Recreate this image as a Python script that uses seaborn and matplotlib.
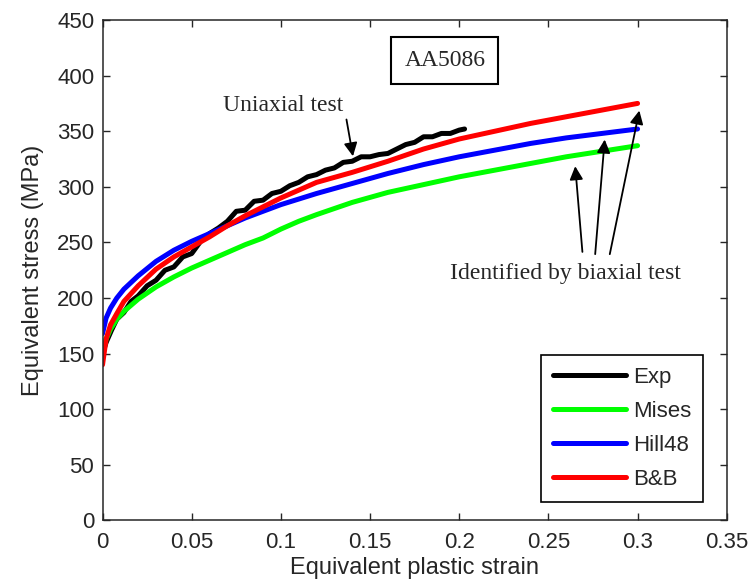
import pandas as pd
import matplotlib.pyplot as plt
import seaborn as sns

# Datos (deformacion plastica equivalente, tension en MPa)
exp_strain = [0.000, 0.002, 0.005, 0.008, 0.012, 0.016, 0.020, 0.025, 0.030, 0.035,
              0.040, 0.045, 0.050, 0.055, 0.060, 0.065, 0.070, 0.075, 0.080, 0.085,
              0.090, 0.095, 0.100, 0.105, 0.110, 0.115, 0.120, 0.125, 0.130, 0.135,
              0.140, 0.145, 0.150, 0.155, 0.160, 0.165, 0.170, 0.175, 0.180, 0.185,
              0.190, 0.195, 0.200, 0.203]
exp_stress = [150, 160, 171, 181, 187, 197, 202, 211, 216, 225,
              228, 237, 240, 251, 258, 263, 269, 278, 279, 287,
              288, 294, 296, 301, 304, 309, 311, 315, 317, 322,
              323, 327, 327, 329, 330, 334, 338, 340, 345, 345,
              348, 348, 351, 352]

model_strain = [0.0, 0.002, 0.0045, 0.008, 0.012, 0.02, 0.03, 0.04, 0.05, 0.06,
                0.07, 0.08, 0.09, 0.10, 0.11, 0.12, 0.14, 0.16, 0.18, 0.20,
                0.22, 0.24, 0.26, 0.28, 0.30]
mises_stress = [150, 163, 172, 181, 188, 199, 210, 219, 227, 234,
                241, 248, 254, 262, 269, 275, 286, 295, 302, 309,
                315, 321, 327, 332, 337]
hill48_stress = [168, 182, 191, 200, 208, 220, 233, 243, 251, 258,
                 265, 272, 278, 284, 289, 294, 303, 312, 320, 327,
                 333, 339, 344, 348, 352]
bb_stress = [140, 163, 176, 186, 197, 211, 226, 237, 246, 255,
             265, 274, 282, 290, 297, 304, 313, 323, 334, 343,
             350, 357, 363, 369, 375]

rows = [('Exp', s, v) for s, v in zip(exp_strain, exp_stress)]
for name, vals in [('Mises', mises_stress), ('Hill48', hill48_stress), ('B&B', bb_stress)]:
    rows += [(name, s, v) for s, v in zip(model_strain, vals)]
df = pd.DataFrame(rows, columns=['model', 'strain', 'stress'])

sns.set_style('white')
plt.rcParams['font.family'] = ['Liberation Sans', 'DejaVu Sans']

fig = plt.figure(figsize=(7.5, 5.88), dpi=100)
ax = fig.add_axes([0.1367, 0.1148, 0.8323, 0.8512])

colores = {'Exp': 'black', 'Mises': '#00ff00', 'Hill48': '#0000ff', 'B&B': '#ff0000'}
sns.lineplot(data=df, x='strain', y='stress', hue='model', palette=colores,
             hue_order=['Exp', 'Mises', 'Hill48', 'B&B'], estimator=None, sort=False,
             linewidth=3.6, ax=ax)

ax.set_xlim(0, 0.35)
ax.set_ylim(0, 450)
ax.set_xticks([0, 0.05, 0.1, 0.15, 0.2, 0.25, 0.3, 0.35])
ax.set_xticklabels(['0', '0.05', '0.1', '0.15', '0.2', '0.25', '0.3', '0.35'])
ax.set_yticks(range(0, 451, 50))
ax.tick_params(direction='in', length=5, width=1, labelsize=16, colors='#262626',
               top=True, right=True, bottom=True, left=True, labelcolor='#262626')
ax.tick_params(axis='x', pad=8)
ax.tick_params(axis='y', pad=6)
for sp in ax.spines.values():
    sp.set_color('#262626')
    sp.set_linewidth(1.1)

ax.set_xlabel('Equivalent plastic strain', fontsize=17, color='#262626', labelpad=3)
ax.set_ylabel('Equivalent stress (MPa)', fontsize=17, color='#262626', labelpad=9)

leg = ax.legend(loc='lower right', bbox_to_anchor=(0.9625, 0.037), borderaxespad=0,
                fontsize=16, handlelength=3.3, handletextpad=0.3, fancybox=False,
                framealpha=1, edgecolor='black', title=None, labelspacing=0.58,
                borderpad=0.55)
leg.get_frame().set_linewidth(1.2)
for line in leg.get_lines():
    line.set_linewidth(3.6)

# Anotaciones
serif = ['Liberation Serif', 'DejaVu Serif']
ax.text(0.192, 414, 'AA5086', fontsize=17, family=serif, ha='center', va='center',
        bbox=dict(boxstyle='square,pad=0.55', facecolor='white', edgecolor='black', linewidth=1.5))
ax.text(0.1015, 373, 'Uniaxial test', fontsize=17, family=serif, ha='center', va='center')
ax.annotate('', xy=(0.1407, 325), xytext=(0.1365, 363),
            arrowprops=dict(arrowstyle='-|>', color='black', lw=1.3, mutation_scale=20))
ax.text(0.2598, 222, 'Identified by biaxial test', fontsize=17, family=serif,
        ha='center', va='center')
for tail, tip in [((0.2692, 239), (0.2649, 321)),
                  ((0.2761, 237), (0.2817, 345)),
                  ((0.2841, 237), (0.3013, 371))]:
    ax.annotate('', xy=tip, xytext=tail,
                arrowprops=dict(arrowstyle='-|>', color='black', lw=1.3, mutation_scale=20))

plt.savefig('out.png', dpi=100)
